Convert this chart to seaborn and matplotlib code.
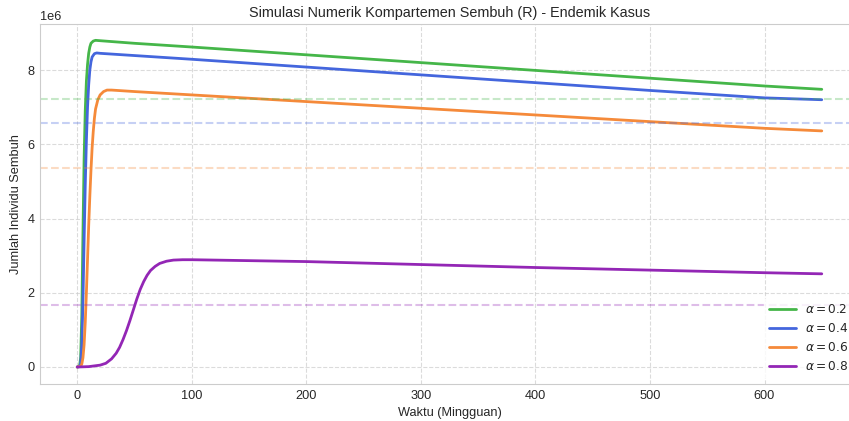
import numpy as np
import pandas as pd
import seaborn as sns
import matplotlib.pyplot as plt

# Values (R in millions of people)
t_a02 = [0, 2, 3, 4, 5, 6, 7, 8, 9, 10, 11, 12, 14, 16, 20, 50, 100, 200, 300, 400, 500, 600, 650]
r_a02 = [0, 0.02, 0.25, 1.4, 3.6, 5.6, 6.9, 7.7, 8.15, 8.45, 8.62, 8.72, 8.78, 8.80, 8.79, 8.72, 8.62, 8.41, 8.20, 7.99, 7.78, 7.57, 7.48]

t_a04 = [0, 2, 3, 4, 5, 6, 7, 8, 9, 10, 11, 12, 13, 15, 17, 20, 50, 100, 200, 300, 400, 500, 600, 650]
r_a04 = [0, 0.01, 0.1, 0.6, 1.8, 3.4, 4.9, 6.1, 7.0, 7.6, 8.0, 8.22, 8.35, 8.44, 8.46, 8.45, 8.39, 8.29, 8.08, 7.87, 7.66, 7.45, 7.25, 7.20]

t_a06 = [0, 3, 4, 5, 6, 7, 8, 9, 10, 11, 12, 13, 14, 15, 16, 18, 20, 23, 26, 30, 50, 100, 200, 300, 400, 500, 600, 650]
r_a06 = [0, 0.02, 0.08, 0.25, 0.6, 1.2, 2.0, 2.9, 3.8, 4.6, 5.3, 5.9, 6.35, 6.7, 6.95, 7.2, 7.33, 7.42, 7.46, 7.46, 7.42, 7.33, 7.15, 6.97, 6.79, 6.61, 6.43, 6.36]

t_a08 = [0, 10, 20, 25, 30, 34, 37, 40, 43, 46, 49, 52, 55, 58, 61, 64, 68, 72, 78, 84, 92, 100, 200, 300, 400, 500, 600, 650]
r_a08 = [0, 0.01, 0.05, 0.1, 0.22, 0.37, 0.53, 0.74, 0.98, 1.25, 1.54, 1.83, 2.09, 2.3, 2.47, 2.6, 2.71, 2.79, 2.85, 2.88, 2.89, 2.89, 2.84, 2.76, 2.68, 2.61, 2.54, 2.51]

# Endemic equilibrium levels (dashed reference lines), millions
r_star = [7.22, 6.58, 5.36, 1.67]

alpha_labels = [r"$\alpha = 0.2$", r"$\alpha = 0.4$", r"$\alpha = 0.6$", r"$\alpha = 0.8$"]
colors = ["#45b649", "#4466dd", "#f58a3a", "#9326b5"]

series = [(t_a02, r_a02), (t_a04, r_a04), (t_a06, r_a06), (t_a08, r_a08)]
frames = []
for lab, (t, r) in zip(alpha_labels, series):
    frames.append(pd.DataFrame({"t": t, "R": np.array(r) * 1e6, "alpha": lab}))
df = pd.concat(frames, ignore_index=True)

sns.set_style("whitegrid")
plt.rcParams["font.family"] = ["Liberation Sans", "DejaVu Sans"]

fig = plt.figure(figsize=(8.49, 4.21), dpi=100)
# the reference plot area runs a little past the right edge of the image
ax = fig.add_axes([40 / 849, 1 - 384 / 421, 819 / 849, 360 / 421])

sns.lineplot(data=df, x="t", y="R", hue="alpha", palette=colors, linewidth=2, ax=ax)

for val, c in zip(r_star, colors):
    ax.axhline(val * 1e6, color=c, linestyle="--", linewidth=1.5, alpha=0.3)

ax.set_xlim(-32.5, 682.5)
ax.set_ylim(-0.458e6, 9.24e6)
ax.grid(True, linestyle="--", alpha=0.7)
ax.tick_params(labelsize=9.2, length=0, pad=4)
ax.yaxis.get_offset_text().set_fontsize(9.2)

ax.set_title("Simulasi Numerik Kompartemen Sembuh (R) - Endemik Kasus", fontsize=10.4, pad=5)
ax.set_xlabel("Waktu (Mingguan)", fontsize=9.2, labelpad=4)
ax.set_ylabel("Jumlah Individu Sembuh", fontsize=9.2, labelpad=4)
ax.legend(title=None, loc="lower right", fontsize=8.7, frameon=True, edgecolor="white",
          handlelength=2.2, handletextpad=0.75)

fig.savefig("out.png", dpi=100)
